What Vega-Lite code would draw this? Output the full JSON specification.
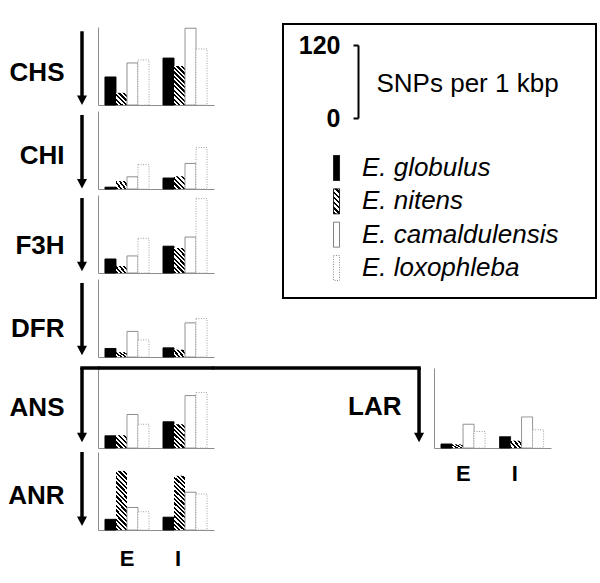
{
 "$schema": "https://vega.github.io/schema/vega-lite/v6.json",
 "padding": {"left": 7, "top": 23, "right": 0, "bottom": 0},
 "config": {
  "font": "Liberation Sans",
  "view": {"stroke": null},
  "axis": {"grid": false, "ticks": false, "tickSize": 0, "labels": false, "domainColor": "#8c8c8c", "domainWidth": 1, "labelColor": "black", "titleColor": "black"}
 },
 "datasets": {
  "snp": [
   {"gene": "CHS", "region": "E", "species": "E. globulus", "snp": 46},
   {"gene": "CHS", "region": "E", "species": "E. nitens", "snp": 20},
   {"gene": "CHS", "region": "E", "species": "E. camaldulensis", "snp": 69},
   {"gene": "CHS", "region": "E", "species": "E. loxophleba", "snp": 74},
   {"gene": "CHS", "region": "I", "species": "E. globulus", "snp": 77},
   {"gene": "CHS", "region": "I", "species": "E. nitens", "snp": 64},
   {"gene": "CHS", "region": "I", "species": "E. camaldulensis", "snp": 126},
   {"gene": "CHS", "region": "I", "species": "E. loxophleba", "snp": 92},
   {"gene": "CHI", "region": "E", "species": "E. globulus", "snp": 3},
   {"gene": "CHI", "region": "E", "species": "E. nitens", "snp": 13},
   {"gene": "CHI", "region": "E", "species": "E. camaldulensis", "snp": 20},
   {"gene": "CHI", "region": "E", "species": "E. loxophleba", "snp": 40},
   {"gene": "CHI", "region": "I", "species": "E. globulus", "snp": 18},
   {"gene": "CHI", "region": "I", "species": "E. nitens", "snp": 21},
   {"gene": "CHI", "region": "I", "species": "E. camaldulensis", "snp": 42},
   {"gene": "CHI", "region": "I", "species": "E. loxophleba", "snp": 68},
   {"gene": "F3H", "region": "E", "species": "E. globulus", "snp": 23},
   {"gene": "F3H", "region": "E", "species": "E. nitens", "snp": 11.5},
   {"gene": "F3H", "region": "E", "species": "E. camaldulensis", "snp": 28},
   {"gene": "F3H", "region": "E", "species": "E. loxophleba", "snp": 57},
   {"gene": "F3H", "region": "I", "species": "E. globulus", "snp": 44},
   {"gene": "F3H", "region": "I", "species": "E. nitens", "snp": 41},
   {"gene": "F3H", "region": "I", "species": "E. camaldulensis", "snp": 59},
   {"gene": "F3H", "region": "I", "species": "E. loxophleba", "snp": 122},
   {"gene": "DFR", "region": "E", "species": "E. globulus", "snp": 14},
   {"gene": "DFR", "region": "E", "species": "E. nitens", "snp": 8},
   {"gene": "DFR", "region": "E", "species": "E. camaldulensis", "snp": 42},
   {"gene": "DFR", "region": "E", "species": "E. loxophleba", "snp": 28},
   {"gene": "DFR", "region": "I", "species": "E. globulus", "snp": 15},
   {"gene": "DFR", "region": "I", "species": "E. nitens", "snp": 12},
   {"gene": "DFR", "region": "I", "species": "E. camaldulensis", "snp": 56},
   {"gene": "DFR", "region": "I", "species": "E. loxophleba", "snp": 63},
   {"gene": "ANS", "region": "E", "species": "E. globulus", "snp": 20},
   {"gene": "ANS", "region": "E", "species": "E. nitens", "snp": 21},
   {"gene": "ANS", "region": "E", "species": "E. camaldulensis", "snp": 55},
   {"gene": "ANS", "region": "E", "species": "E. loxophleba", "snp": 39},
   {"gene": "ANS", "region": "I", "species": "E. globulus", "snp": 43},
   {"gene": "ANS", "region": "I", "species": "E. nitens", "snp": 39},
   {"gene": "ANS", "region": "I", "species": "E. camaldulensis", "snp": 86},
   {"gene": "ANS", "region": "I", "species": "E. loxophleba", "snp": 91},
   {"gene": "ANR", "region": "E", "species": "E. globulus", "snp": 17.5},
   {"gene": "ANR", "region": "E", "species": "E. nitens", "snp": 97},
   {"gene": "ANR", "region": "E", "species": "E. camaldulensis", "snp": 37},
   {"gene": "ANR", "region": "E", "species": "E. loxophleba", "snp": 30},
   {"gene": "ANR", "region": "I", "species": "E. globulus", "snp": 21},
   {"gene": "ANR", "region": "I", "species": "E. nitens", "snp": 89},
   {"gene": "ANR", "region": "I", "species": "E. camaldulensis", "snp": 62},
   {"gene": "ANR", "region": "I", "species": "E. loxophleba", "snp": 59},
   {"gene": "LAR", "region": "E", "species": "E. globulus", "snp": 6.5},
   {"gene": "LAR", "region": "E", "species": "E. nitens", "snp": 6},
   {"gene": "LAR", "region": "E", "species": "E. camaldulensis", "snp": 39},
   {"gene": "LAR", "region": "E", "species": "E. loxophleba", "snp": 27},
   {"gene": "LAR", "region": "I", "species": "E. globulus", "snp": 18.5},
   {"gene": "LAR", "region": "I", "species": "E. nitens", "snp": 12},
   {"gene": "LAR", "region": "I", "species": "E. camaldulensis", "snp": 51},
   {"gene": "LAR", "region": "I", "species": "E. loxophleba", "snp": 30}
  ],
  "species": [
   {"species": "E. globulus"}, {"species": "E. nitens"}, {"species": "E. camaldulensis"}, {"species": "E. loxophleba"}
  ]
 },
 "columns": 4,
 "spacing": {"row": 4, "column": 0},
 "bounds": "flush",
 "align": "each",
 "concat": [
  {"width": 18, "height": 78, "data": {"values": [{}]}, "layer": [
   {"mark": {"type": "rule", "strokeWidth": 3.5, "color": "black"}, "encoding": {
    "x": {"datum": 0.111, "type": "quantitative", "scale": {"domain": [0, 1]}, "axis": null},
    "y": {"datum": 121, "type": "quantitative", "scale": {"domain": [0, 128], "nice": false}, "axis": {"domain": false, "title": "CHS", "titleAngle": 0, "titleAlign": "right", "titleBaseline": "middle", "titleX": -16, "titleY": 45, "titleFontSize": 26, "titleFontWeight": "bold"}},
    "y2": {"datum": 8}}},
   {"mark": {"type": "point", "shape": "M -1 -1.9 L 1 -1.9 L 0 0 Z", "size": 100, "filled": true, "color": "black", "opacity": 1, "strokeWidth": 0}, "encoding": {
    "x": {"datum": 0.111, "type": "quantitative"}, "y": {"datum": 0, "type": "quantitative"}}}
  ]},
  {"width": 116, "height": 78, "data": {"name": "snp"}, "transform": [{"filter": "datum.gene === 'CHS'"}],
   "mark": {"type": "bar", "strokeWidth": 1},
   "encoding": {
    "x": {"field": "region", "type": "nominal", "scale": {"domain": ["E", "I"], "paddingInner": 0.241, "paddingOuter": 0.12}, "axis": {"title": null}},
    "xOffset": {"field": "species", "type": "nominal", "scale": {"domain": ["E. globulus", "E. nitens", "E. camaldulensis", "E. loxophleba"], "paddingInner": 0, "paddingOuter": 0}},
    "y": {"field": "snp", "type": "quantitative", "scale": {"domain": [0, 128], "nice": false}, "axis": {"title": null}},
    "fill": {"condition": [
     {"test": "datum.species === 'E. globulus'", "value": "#000"},
     {"test": "datum.species === 'E. nitens' && datum.snp < 40", "value": {"gradient": "linear", "x1": 0, "y1": 1, "x2": 0.932, "y2": -0.06, "stops": [{"offset": 0, "color": "#000"}, {"offset": 0.1, "color": "#000"}, {"offset": 0.1, "color": "#fff"}, {"offset": 0.2, "color": "#fff"}, {"offset": 0.2, "color": "#000"}, {"offset": 0.3, "color": "#000"}, {"offset": 0.3, "color": "#fff"}, {"offset": 0.4, "color": "#fff"}, {"offset": 0.4, "color": "#000"}, {"offset": 0.5, "color": "#000"}, {"offset": 0.5, "color": "#fff"}, {"offset": 0.6, "color": "#fff"}, {"offset": 0.6, "color": "#000"}, {"offset": 0.7, "color": "#000"}, {"offset": 0.7, "color": "#fff"}, {"offset": 0.8, "color": "#fff"}, {"offset": 0.8, "color": "#000"}, {"offset": 0.9, "color": "#000"}, {"offset": 0.9, "color": "#fff"}, {"offset": 1, "color": "#fff"}]}},
     {"test": "datum.species === 'E. nitens'", "value": {"gradient": "linear", "x1": 0, "y1": 1, "x2": 0.335, "y2": -0.188, "stops": [{"offset": 0, "color": "#000"}, {"offset": 0.0455, "color": "#000"}, {"offset": 0.0455, "color": "#fff"}, {"offset": 0.0909, "color": "#fff"}, {"offset": 0.0909, "color": "#000"}, {"offset": 0.1364, "color": "#000"}, {"offset": 0.1364, "color": "#fff"}, {"offset": 0.1818, "color": "#fff"}, {"offset": 0.1818, "color": "#000"}, {"offset": 0.2273, "color": "#000"}, {"offset": 0.2273, "color": "#fff"}, {"offset": 0.2727, "color": "#fff"}, {"offset": 0.2727, "color": "#000"}, {"offset": 0.3182, "color": "#000"}, {"offset": 0.3182, "color": "#fff"}, {"offset": 0.3636, "color": "#fff"}, {"offset": 0.3636, "color": "#000"}, {"offset": 0.4091, "color": "#000"}, {"offset": 0.4091, "color": "#fff"}, {"offset": 0.4545, "color": "#fff"}, {"offset": 0.4545, "color": "#000"}, {"offset": 0.5, "color": "#000"}, {"offset": 0.5, "color": "#fff"}, {"offset": 0.5455, "color": "#fff"}, {"offset": 0.5455, "color": "#000"}, {"offset": 0.5909, "color": "#000"}, {"offset": 0.5909, "color": "#fff"}, {"offset": 0.6364, "color": "#fff"}, {"offset": 0.6364, "color": "#000"}, {"offset": 0.6818, "color": "#000"}, {"offset": 0.6818, "color": "#fff"}, {"offset": 0.7273, "color": "#fff"}, {"offset": 0.7273, "color": "#000"}, {"offset": 0.7727, "color": "#000"}, {"offset": 0.7727, "color": "#fff"}, {"offset": 0.8182, "color": "#fff"}, {"offset": 0.8182, "color": "#000"}, {"offset": 0.8636, "color": "#000"}, {"offset": 0.8636, "color": "#fff"}, {"offset": 0.9091, "color": "#fff"}, {"offset": 0.9091, "color": "#000"}, {"offset": 0.9545, "color": "#000"}, {"offset": 0.9545, "color": "#fff"}, {"offset": 1, "color": "#fff"}]}}
    ], "value": "#fff"},
    "stroke": {"condition": [{"test": "datum.species === 'E. camaldulensis'", "value": "#8c8c8c"}, {"test": "datum.species === 'E. loxophleba'", "value": "#a0a0a0"}, {"test": "datum.species === 'E. nitens'", "value": "transparent"}], "value": "black"},
    "strokeDash": {"condition": {"test": "datum.species === 'E. loxophleba'", "value": [1, 1.5]}, "value": [1, 0]}
   }},
  {"width": 220, "height": 78,
   "layer": [
    {"data": {"values": [{}]}, "mark": {"type": "rect", "fillOpacity": 0, "stroke": "black", "strokeWidth": 2},
     "encoding": {
      "x": {"datum": 0, "type": "quantitative", "scale": {"domain": [0, 1], "range": [69, 382]}, "axis": null},
      "x2": {"datum": 1},
      "y": {"datum": 0, "type": "quantitative", "scale": {"domain": [0, 1], "range": [-3, 271]}, "axis": null},
      "y2": {"datum": 1}
     }},
    {"data": {"values": [{}]}, "mark": {"type": "rule", "strokeOpacity": 0},
     "encoding": {
      "y": {"datum": 0, "type": "quantitative", "scale": {"domain": [0, 120], "range": [91, 18], "nice": false}, "axis": {"orient": "left", "offset": -144, "values": [0, 120], "domain": true, "domainColor": "black", "domainWidth": 2, "ticks": true, "tickSize": 5, "tickWidth": 2, "tickColor": "black", "labels": true, "labelFontSize": 25, "labelFontWeight": "bold", "labelPadding": 13, "title": "SNPs per 1 kbp", "titleAngle": 0, "titleAlign": "left", "titleBaseline": "middle", "titleX": 18, "titleY": 56, "titleFontSize": 26, "titleFontWeight": "normal"}}
     }},
    {"data": {"name": "species"},
     "encoding": {
      "y": {"field": "species", "type": "nominal", "scale": {"type": "point", "domain": ["E. globulus", "E. nitens", "E. camaldulensis", "E. loxophleba"], "range": [141, 241], "padding": 0}, "axis": null}
     },
     "layer": [
      {"mark": {"type": "point", "shape": "M -0.24 -1 L 0.24 -1 L 0.24 1 L -0.24 1 Z", "size": 625, "filled": true, "opacity": 1, "strokeWidth": 1},
       "encoding": {
        "x": {"datum": 0.171, "type": "quantitative"},
        "fill": {"condition": [{"test": "datum.species === 'E. globulus'", "value": "#000"}, {"test": "datum.species === 'E. nitens'", "value": {"gradient": "linear", "x1": 0, "y1": 1, "x2": 0.281, "y2": -0.172, "stops": [{"offset": 0, "color": "#000"}, {"offset": 0.0833, "color": "#000"}, {"offset": 0.0833, "color": "#fff"}, {"offset": 0.1667, "color": "#fff"}, {"offset": 0.1667, "color": "#000"}, {"offset": 0.25, "color": "#000"}, {"offset": 0.25, "color": "#fff"}, {"offset": 0.3333, "color": "#fff"}, {"offset": 0.3333, "color": "#000"}, {"offset": 0.4167, "color": "#000"}, {"offset": 0.4167, "color": "#fff"}, {"offset": 0.5, "color": "#fff"}, {"offset": 0.5, "color": "#000"}, {"offset": 0.5833, "color": "#000"}, {"offset": 0.5833, "color": "#fff"}, {"offset": 0.6667, "color": "#fff"}, {"offset": 0.6667, "color": "#000"}, {"offset": 0.75, "color": "#000"}, {"offset": 0.75, "color": "#fff"}, {"offset": 0.8333, "color": "#fff"}, {"offset": 0.8333, "color": "#000"}, {"offset": 0.9167, "color": "#000"}, {"offset": 0.9167, "color": "#fff"}, {"offset": 1, "color": "#fff"}]}}], "value": "#fff"},
        "stroke": {"condition": [{"test": "datum.species === 'E. camaldulensis'", "value": "#6e6e6e"}, {"test": "datum.species === 'E. loxophleba'", "value": "#8c8c8c"}], "value": "black"},
        "strokeDash": {"condition": {"test": "datum.species === 'E. loxophleba'", "value": [1, 1.5]}, "value": [1, 0]}
       }},
      {"mark": {"type": "text", "align": "left", "baseline": "middle", "fontSize": 26, "fontStyle": "italic", "color": "black"},
       "encoding": {
        "x": {"datum": 0.252, "type": "quantitative"},
        "text": {"field": "species"}
       }}
     ]}
   ],
   "resolve": {"scale": {"y": "independent"}, "axis": {"y": "independent"}}
  },
  {"width": 1, "height": 80, "data": {"values": []}, "mark": "point"},

  {"width": 18, "height": 78, "data": {"values": [{}]}, "layer": [
   {"mark": {"type": "rule", "strokeWidth": 3.5, "color": "black"}, "encoding": {
    "x": {"datum": 0.111, "type": "quantitative", "scale": {"domain": [0, 1]}, "axis": null},
    "y": {"datum": 121.5, "type": "quantitative", "scale": {"domain": [0, 128], "nice": false}, "axis": {"domain": false, "title": "CHI", "titleAngle": 0, "titleAlign": "right", "titleBaseline": "middle", "titleX": -16, "titleY": 44, "titleFontSize": 26, "titleFontWeight": "bold"}},
    "y2": {"datum": 9}}},
   {"mark": {"type": "point", "shape": "M -1 -1.9 L 1 -1.9 L 0 0 Z", "size": 100, "filled": true, "color": "black", "opacity": 1, "strokeWidth": 0}, "encoding": {
    "x": {"datum": 0.111, "type": "quantitative"}, "y": {"datum": 1, "type": "quantitative"}}}
  ]},
  {"width": 116, "height": 78, "data": {"name": "snp"}, "transform": [{"filter": "datum.gene === 'CHI'"}],
   "mark": {"type": "bar", "strokeWidth": 1},
   "encoding": {
    "x": {"field": "region", "type": "nominal", "scale": {"domain": ["E", "I"], "paddingInner": 0.241, "paddingOuter": 0.12}, "axis": {"title": null}},
    "xOffset": {"field": "species", "type": "nominal", "scale": {"domain": ["E. globulus", "E. nitens", "E. camaldulensis", "E. loxophleba"], "paddingInner": 0, "paddingOuter": 0}},
    "y": {"field": "snp", "type": "quantitative", "scale": {"domain": [0, 128], "nice": false}, "axis": {"title": null}},
    "fill": {"condition": [
     {"test": "datum.species === 'E. globulus'", "value": "#000"},
     {"test": "datum.species === 'E. nitens' && datum.snp < 15", "value": {"gradient": "linear", "x1": 0, "y1": 1, "x2": 1.191, "y2": 0.35, "stops": [{"offset": 0, "color": "#000"}, {"offset": 0.125, "color": "#000"}, {"offset": 0.125, "color": "#fff"}, {"offset": 0.25, "color": "#fff"}, {"offset": 0.25, "color": "#000"}, {"offset": 0.375, "color": "#000"}, {"offset": 0.375, "color": "#fff"}, {"offset": 0.5, "color": "#fff"}, {"offset": 0.5, "color": "#000"}, {"offset": 0.625, "color": "#000"}, {"offset": 0.625, "color": "#fff"}, {"offset": 0.75, "color": "#fff"}, {"offset": 0.75, "color": "#000"}, {"offset": 0.875, "color": "#000"}, {"offset": 0.875, "color": "#fff"}, {"offset": 1, "color": "#fff"}]}},
     {"test": "datum.species === 'E. nitens'", "value": {"gradient": "linear", "x1": 0, "y1": 1, "x2": 0.932, "y2": -0.06, "stops": [{"offset": 0, "color": "#000"}, {"offset": 0.1, "color": "#000"}, {"offset": 0.1, "color": "#fff"}, {"offset": 0.2, "color": "#fff"}, {"offset": 0.2, "color": "#000"}, {"offset": 0.3, "color": "#000"}, {"offset": 0.3, "color": "#fff"}, {"offset": 0.4, "color": "#fff"}, {"offset": 0.4, "color": "#000"}, {"offset": 0.5, "color": "#000"}, {"offset": 0.5, "color": "#fff"}, {"offset": 0.6, "color": "#fff"}, {"offset": 0.6, "color": "#000"}, {"offset": 0.7, "color": "#000"}, {"offset": 0.7, "color": "#fff"}, {"offset": 0.8, "color": "#fff"}, {"offset": 0.8, "color": "#000"}, {"offset": 0.9, "color": "#000"}, {"offset": 0.9, "color": "#fff"}, {"offset": 1, "color": "#fff"}]}}
    ], "value": "#fff"},
    "stroke": {"condition": [{"test": "datum.species === 'E. camaldulensis'", "value": "#8c8c8c"}, {"test": "datum.species === 'E. loxophleba'", "value": "#a0a0a0"}, {"test": "datum.species === 'E. nitens'", "value": "transparent"}], "value": "black"},
    "strokeDash": {"condition": {"test": "datum.species === 'E. loxophleba'", "value": [1, 1.5]}, "value": [1, 0]}
   }},
  {"width": 1, "height": 1, "data": {"values": []}, "mark": "point"},
  {"width": 1, "height": 80, "data": {"values": []}, "mark": "point"},

  {"width": 18, "height": 78, "data": {"values": [{}]}, "layer": [
   {"mark": {"type": "rule", "strokeWidth": 3.5, "color": "black"}, "encoding": {
    "x": {"datum": 0.111, "type": "quantitative", "scale": {"domain": [0, 1]}, "axis": null},
    "y": {"datum": 123, "type": "quantitative", "scale": {"domain": [0, 128], "nice": false}, "axis": {"domain": false, "title": "F3H", "titleAngle": 0, "titleAlign": "right", "titleBaseline": "middle", "titleX": -16, "titleY": 50, "titleFontSize": 26, "titleFontWeight": "bold"}},
    "y2": {"datum": 11}}},
   {"mark": {"type": "point", "shape": "M -1 -1.9 L 1 -1.9 L 0 0 Z", "size": 100, "filled": true, "color": "black", "opacity": 1, "strokeWidth": 0}, "encoding": {
    "x": {"datum": 0.111, "type": "quantitative"}, "y": {"datum": 3, "type": "quantitative"}}}
  ]},
  {"width": 116, "height": 78, "data": {"name": "snp"}, "transform": [{"filter": "datum.gene === 'F3H'"}],
   "mark": {"type": "bar", "strokeWidth": 1},
   "encoding": {
    "x": {"field": "region", "type": "nominal", "scale": {"domain": ["E", "I"], "paddingInner": 0.241, "paddingOuter": 0.12}, "axis": {"title": null}},
    "xOffset": {"field": "species", "type": "nominal", "scale": {"domain": ["E. globulus", "E. nitens", "E. camaldulensis", "E. loxophleba"], "paddingInner": 0, "paddingOuter": 0}},
    "y": {"field": "snp", "type": "quantitative", "scale": {"domain": [0, 128], "nice": false}, "axis": {"title": null}},
    "fill": {"condition": [
     {"test": "datum.species === 'E. globulus'", "value": "#000"},
     {"test": "datum.species === 'E. nitens' && datum.snp < 20", "value": {"gradient": "linear", "x1": 0, "y1": 1, "x2": 1.191, "y2": 0.35, "stops": [{"offset": 0, "color": "#000"}, {"offset": 0.125, "color": "#000"}, {"offset": 0.125, "color": "#fff"}, {"offset": 0.25, "color": "#fff"}, {"offset": 0.25, "color": "#000"}, {"offset": 0.375, "color": "#000"}, {"offset": 0.375, "color": "#fff"}, {"offset": 0.5, "color": "#fff"}, {"offset": 0.5, "color": "#000"}, {"offset": 0.625, "color": "#000"}, {"offset": 0.625, "color": "#fff"}, {"offset": 0.75, "color": "#fff"}, {"offset": 0.75, "color": "#000"}, {"offset": 0.875, "color": "#000"}, {"offset": 0.875, "color": "#fff"}, {"offset": 1, "color": "#fff"}]}},
     {"test": "datum.species === 'E. nitens'", "value": {"gradient": "linear", "x1": 0, "y1": 1, "x2": 0.541, "y2": -0.206, "stops": [{"offset": 0, "color": "#000"}, {"offset": 0.0625, "color": "#000"}, {"offset": 0.0625, "color": "#fff"}, {"offset": 0.125, "color": "#fff"}, {"offset": 0.125, "color": "#000"}, {"offset": 0.1875, "color": "#000"}, {"offset": 0.1875, "color": "#fff"}, {"offset": 0.25, "color": "#fff"}, {"offset": 0.25, "color": "#000"}, {"offset": 0.3125, "color": "#000"}, {"offset": 0.3125, "color": "#fff"}, {"offset": 0.375, "color": "#fff"}, {"offset": 0.375, "color": "#000"}, {"offset": 0.4375, "color": "#000"}, {"offset": 0.4375, "color": "#fff"}, {"offset": 0.5, "color": "#fff"}, {"offset": 0.5, "color": "#000"}, {"offset": 0.5625, "color": "#000"}, {"offset": 0.5625, "color": "#fff"}, {"offset": 0.625, "color": "#fff"}, {"offset": 0.625, "color": "#000"}, {"offset": 0.6875, "color": "#000"}, {"offset": 0.6875, "color": "#fff"}, {"offset": 0.75, "color": "#fff"}, {"offset": 0.75, "color": "#000"}, {"offset": 0.8125, "color": "#000"}, {"offset": 0.8125, "color": "#fff"}, {"offset": 0.875, "color": "#fff"}, {"offset": 0.875, "color": "#000"}, {"offset": 0.9375, "color": "#000"}, {"offset": 0.9375, "color": "#fff"}, {"offset": 1, "color": "#fff"}]}}
    ], "value": "#fff"},
    "stroke": {"condition": [{"test": "datum.species === 'E. camaldulensis'", "value": "#8c8c8c"}, {"test": "datum.species === 'E. loxophleba'", "value": "#a0a0a0"}, {"test": "datum.species === 'E. nitens'", "value": "transparent"}], "value": "black"},
    "strokeDash": {"condition": {"test": "datum.species === 'E. loxophleba'", "value": [1, 1.5]}, "value": [1, 0]}
   }},
  {"width": 1, "height": 1, "data": {"values": []}, "mark": "point"},
  {"width": 1, "height": 80, "data": {"values": []}, "mark": "point"},

  {"width": 18, "height": 78, "data": {"values": [{}]}, "layer": [
   {"mark": {"type": "rule", "strokeWidth": 3.5, "color": "black"}, "encoding": {
    "x": {"datum": 0.111, "type": "quantitative", "scale": {"domain": [0, 1]}, "axis": null},
    "y": {"datum": 121.5, "type": "quantitative", "scale": {"domain": [0, 128], "nice": false}, "axis": {"domain": false, "title": "DFR", "titleAngle": 0, "titleAlign": "right", "titleBaseline": "middle", "titleX": -16, "titleY": 49, "titleFontSize": 26, "titleFontWeight": "bold"}},
    "y2": {"datum": 11}}},
   {"mark": {"type": "point", "shape": "M -1 -1.9 L 1 -1.9 L 0 0 Z", "size": 100, "filled": true, "color": "black", "opacity": 1, "strokeWidth": 0}, "encoding": {
    "x": {"datum": 0.111, "type": "quantitative"}, "y": {"datum": 3, "type": "quantitative"}}}
  ]},
  {"width": 116, "height": 78, "data": {"name": "snp"}, "transform": [{"filter": "datum.gene === 'DFR'"}],
   "mark": {"type": "bar", "strokeWidth": 1},
   "encoding": {
    "x": {"field": "region", "type": "nominal", "scale": {"domain": ["E", "I"], "paddingInner": 0.241, "paddingOuter": 0.12}, "axis": {"title": null}},
    "xOffset": {"field": "species", "type": "nominal", "scale": {"domain": ["E. globulus", "E. nitens", "E. camaldulensis", "E. loxophleba"], "paddingInner": 0, "paddingOuter": 0}},
    "y": {"field": "snp", "type": "quantitative", "scale": {"domain": [0, 128], "nice": false}, "axis": {"title": null}},
    "fill": {"condition": [
     {"test": "datum.species === 'E. globulus'", "value": "#000"},
     {"test": "datum.species === 'E. nitens'", "value": {"gradient": "linear", "x1": 0, "y1": 1, "x2": 1.191, "y2": 0.35, "stops": [{"offset": 0, "color": "#000"}, {"offset": 0.125, "color": "#000"}, {"offset": 0.125, "color": "#fff"}, {"offset": 0.25, "color": "#fff"}, {"offset": 0.25, "color": "#000"}, {"offset": 0.375, "color": "#000"}, {"offset": 0.375, "color": "#fff"}, {"offset": 0.5, "color": "#fff"}, {"offset": 0.5, "color": "#000"}, {"offset": 0.625, "color": "#000"}, {"offset": 0.625, "color": "#fff"}, {"offset": 0.75, "color": "#fff"}, {"offset": 0.75, "color": "#000"}, {"offset": 0.875, "color": "#000"}, {"offset": 0.875, "color": "#fff"}, {"offset": 1, "color": "#fff"}]}}
    ], "value": "#fff"},
    "stroke": {"condition": [{"test": "datum.species === 'E. camaldulensis'", "value": "#8c8c8c"}, {"test": "datum.species === 'E. loxophleba'", "value": "#a0a0a0"}, {"test": "datum.species === 'E. nitens'", "value": "transparent"}], "value": "black"},
    "strokeDash": {"condition": {"test": "datum.species === 'E. loxophleba'", "value": [1, 1.5]}, "value": [1, 0]}
   }},
  {"width": 1, "height": 1, "data": {"values": []}, "mark": "point"},
  {"width": 1, "height": 85, "data": {"values": []}, "mark": "point"},

  {"width": 18, "height": 80, "data": {"values": [{}]}, "layer": [
   {"mark": {"type": "rule", "strokeWidth": 3.5, "color": "black", "strokeCap": "square"}, "encoding": {
    "x": {"datum": 0.111, "type": "quantitative", "scale": {"domain": [0, 1]}, "axis": null},
    "x2": {"datum": 1},
    "y": {"datum": 131.3, "type": "quantitative", "scale": {"domain": [0, 131.3], "nice": false}, "axis": {"domain": false, "title": "ANS", "titleAngle": 0, "titleAlign": "right", "titleBaseline": "middle", "titleX": -16, "titleY": 39, "titleFontSize": 26, "titleFontWeight": "bold"}}}},
   {"mark": {"type": "rule", "strokeWidth": 3.5, "color": "black"}, "encoding": {
    "x": {"datum": 0.111, "type": "quantitative"},
    "y": {"datum": 131.3, "type": "quantitative"},
    "y2": {"datum": 17}}},
   {"mark": {"type": "point", "shape": "M -1 -1.9 L 1 -1.9 L 0 0 Z", "size": 100, "filled": true, "color": "black", "opacity": 1, "strokeWidth": 0}, "encoding": {
    "x": {"datum": 0.111, "type": "quantitative"}, "y": {"datum": 9.5, "type": "quantitative"}}}
  ]},
  {"width": 116, "height": 80,
   "layer": [
    {"data": {"name": "snp"}, "transform": [{"filter": "datum.gene === 'ANS'"}],
     "mark": {"type": "bar", "strokeWidth": 1},
     "encoding": {
      "x": {"field": "region", "type": "nominal", "scale": {"domain": ["E", "I"], "paddingInner": 0.241, "paddingOuter": 0.12}, "axis": {"title": null}},
      "xOffset": {"field": "species", "type": "nominal", "scale": {"domain": ["E. globulus", "E. nitens", "E. camaldulensis", "E. loxophleba"], "paddingInner": 0, "paddingOuter": 0}},
      "y": {"field": "snp", "type": "quantitative", "scale": {"domain": [0, 131.3], "nice": false}, "axis": {"title": null}},
      "fill": {"condition": [
       {"test": "datum.species === 'E. globulus'", "value": "#000"},
       {"test": "datum.species === 'E. nitens' && datum.snp < 30", "value": {"gradient": "linear", "x1": 0, "y1": 1, "x2": 0.932, "y2": -0.06, "stops": [{"offset": 0, "color": "#000"}, {"offset": 0.1, "color": "#000"}, {"offset": 0.1, "color": "#fff"}, {"offset": 0.2, "color": "#fff"}, {"offset": 0.2, "color": "#000"}, {"offset": 0.3, "color": "#000"}, {"offset": 0.3, "color": "#fff"}, {"offset": 0.4, "color": "#fff"}, {"offset": 0.4, "color": "#000"}, {"offset": 0.5, "color": "#000"}, {"offset": 0.5, "color": "#fff"}, {"offset": 0.6, "color": "#fff"}, {"offset": 0.6, "color": "#000"}, {"offset": 0.7, "color": "#000"}, {"offset": 0.7, "color": "#fff"}, {"offset": 0.8, "color": "#fff"}, {"offset": 0.8, "color": "#000"}, {"offset": 0.9, "color": "#000"}, {"offset": 0.9, "color": "#fff"}, {"offset": 1, "color": "#fff"}]}},
       {"test": "datum.species === 'E. nitens'", "value": {"gradient": "linear", "x1": 0, "y1": 1, "x2": 0.541, "y2": -0.206, "stops": [{"offset": 0, "color": "#000"}, {"offset": 0.0625, "color": "#000"}, {"offset": 0.0625, "color": "#fff"}, {"offset": 0.125, "color": "#fff"}, {"offset": 0.125, "color": "#000"}, {"offset": 0.1875, "color": "#000"}, {"offset": 0.1875, "color": "#fff"}, {"offset": 0.25, "color": "#fff"}, {"offset": 0.25, "color": "#000"}, {"offset": 0.3125, "color": "#000"}, {"offset": 0.3125, "color": "#fff"}, {"offset": 0.375, "color": "#fff"}, {"offset": 0.375, "color": "#000"}, {"offset": 0.4375, "color": "#000"}, {"offset": 0.4375, "color": "#fff"}, {"offset": 0.5, "color": "#fff"}, {"offset": 0.5, "color": "#000"}, {"offset": 0.5625, "color": "#000"}, {"offset": 0.5625, "color": "#fff"}, {"offset": 0.625, "color": "#fff"}, {"offset": 0.625, "color": "#000"}, {"offset": 0.6875, "color": "#000"}, {"offset": 0.6875, "color": "#fff"}, {"offset": 0.75, "color": "#fff"}, {"offset": 0.75, "color": "#000"}, {"offset": 0.8125, "color": "#000"}, {"offset": 0.8125, "color": "#fff"}, {"offset": 0.875, "color": "#fff"}, {"offset": 0.875, "color": "#000"}, {"offset": 0.9375, "color": "#000"}, {"offset": 0.9375, "color": "#fff"}, {"offset": 1, "color": "#fff"}]}}
      ], "value": "#fff"},
      "stroke": {"condition": [{"test": "datum.species === 'E. camaldulensis'", "value": "#8c8c8c"}, {"test": "datum.species === 'E. loxophleba'", "value": "#a0a0a0"}, {"test": "datum.species === 'E. nitens'", "value": "transparent"}], "value": "black"},
      "strokeDash": {"condition": {"test": "datum.species === 'E. loxophleba'", "value": [1, 1.5]}, "value": [1, 0]}
     }},
    {"data": {"values": [{}]}, "mark": {"type": "rule", "strokeWidth": 3.5, "color": "black"},
     "encoding": {"y": {"datum": 131.3, "type": "quantitative"}}}
   ]},
  {"width": 220, "height": 80, "data": {"values": [{}]}, "layer": [
   {"mark": {"type": "rule", "strokeWidth": 3.5, "color": "black", "strokeCap": "square"}, "encoding": {
    "x": {"datum": 0, "type": "quantitative", "scale": {"domain": [0, 1]}, "axis": null},
    "x2": {"datum": 0.932},
    "y": {"datum": 131.3, "type": "quantitative", "scale": {"domain": [0, 131.3], "nice": false}, "axis": {"domain": false, "title": "LAR", "titleAngle": 0, "titleAlign": "right", "titleBaseline": "middle", "titleX": 187, "titleY": 38, "titleFontSize": 26, "titleFontWeight": "bold"}}}},
   {"mark": {"type": "rule", "strokeWidth": 3.5, "color": "black"}, "encoding": {
    "x": {"datum": 0.932, "type": "quantitative"},
    "y": {"datum": 131.3, "type": "quantitative"},
    "y2": {"datum": 17}}},
   {"mark": {"type": "point", "shape": "M -1 -1.9 L 1 -1.9 L 0 0 Z", "size": 100, "filled": true, "color": "black", "opacity": 1, "strokeWidth": 0}, "encoding": {
    "x": {"datum": 0.932, "type": "quantitative"}, "y": {"datum": 9.5, "type": "quantitative"}}}
  ]},
  {"width": 117, "height": 80, "data": {"name": "snp"}, "transform": [{"filter": "datum.gene === 'LAR'"}],
   "mark": {"type": "bar", "strokeWidth": 1},
   "encoding": {
    "x": {"field": "region", "type": "nominal", "scale": {"domain": ["E", "I"], "paddingInner": 0.241, "paddingOuter": 0.12}, "axis": {"title": null, "labels": true, "labelAngle": 0, "labelFontSize": 22, "labelFontWeight": "bold", "labelPadding": 15.5, "labelOffset": {"condition": {"test": "datum.label === 'I'", "value": -7}, "value": 0}}},
    "xOffset": {"field": "species", "type": "nominal", "scale": {"domain": ["E. globulus", "E. nitens", "E. camaldulensis", "E. loxophleba"], "paddingInner": 0, "paddingOuter": 0}},
    "y": {"field": "snp", "type": "quantitative", "scale": {"domain": [0, 131.3], "nice": false}, "axis": {"title": null}},
    "fill": {"condition": [
     {"test": "datum.species === 'E. globulus'", "value": "#000"},
     {"test": "datum.species === 'E. nitens'", "value": {"gradient": "linear", "x1": 0, "y1": 1, "x2": 1.191, "y2": 0.35, "stops": [{"offset": 0, "color": "#000"}, {"offset": 0.125, "color": "#000"}, {"offset": 0.125, "color": "#fff"}, {"offset": 0.25, "color": "#fff"}, {"offset": 0.25, "color": "#000"}, {"offset": 0.375, "color": "#000"}, {"offset": 0.375, "color": "#fff"}, {"offset": 0.5, "color": "#fff"}, {"offset": 0.5, "color": "#000"}, {"offset": 0.625, "color": "#000"}, {"offset": 0.625, "color": "#fff"}, {"offset": 0.75, "color": "#fff"}, {"offset": 0.75, "color": "#000"}, {"offset": 0.875, "color": "#000"}, {"offset": 0.875, "color": "#fff"}, {"offset": 1, "color": "#fff"}]}}
    ], "value": "#fff"},
    "stroke": {"condition": [{"test": "datum.species === 'E. camaldulensis'", "value": "#8c8c8c"}, {"test": "datum.species === 'E. loxophleba'", "value": "#a0a0a0"}, {"test": "datum.species === 'E. nitens'", "value": "transparent"}], "value": "black"},
    "strokeDash": {"condition": {"test": "datum.species === 'E. loxophleba'", "value": [1, 1.5]}, "value": [1, 0]}
   }},

  {"width": 18, "height": 78, "data": {"values": [{}]}, "layer": [
   {"mark": {"type": "rule", "strokeWidth": 3.5, "color": "black"}, "encoding": {
    "x": {"datum": 0.111, "type": "quantitative", "scale": {"domain": [0, 1]}, "axis": null},
    "y": {"datum": 128, "type": "quantitative", "scale": {"domain": [0, 128], "nice": false}, "axis": {"domain": false, "title": "ANR", "titleAngle": 0, "titleAlign": "right", "titleBaseline": "middle", "titleX": -16, "titleY": 43, "titleFontSize": 26, "titleFontWeight": "bold"}},
    "y2": {"datum": 14}}},
   {"mark": {"type": "point", "shape": "M -1 -1.9 L 1 -1.9 L 0 0 Z", "size": 100, "filled": true, "color": "black", "opacity": 1, "strokeWidth": 0}, "encoding": {
    "x": {"datum": 0.111, "type": "quantitative"}, "y": {"datum": 6.5, "type": "quantitative"}}}
  ]},
  {"width": 116, "height": 78, "data": {"name": "snp"}, "transform": [{"filter": "datum.gene === 'ANR'"}],
   "mark": {"type": "bar", "strokeWidth": 1},
   "encoding": {
    "x": {"field": "region", "type": "nominal", "scale": {"domain": ["E", "I"], "paddingInner": 0.241, "paddingOuter": 0.12}, "axis": {"title": null, "labels": true, "labelAngle": 0, "labelFontSize": 22, "labelFontWeight": "bold", "labelPadding": 18.5, "labelOffset": {"condition": {"test": "datum.label === 'I'", "value": -7}, "value": 0}}},
    "xOffset": {"field": "species", "type": "nominal", "scale": {"domain": ["E. globulus", "E. nitens", "E. camaldulensis", "E. loxophleba"], "paddingInner": 0, "paddingOuter": 0}},
    "y": {"field": "snp", "type": "quantitative", "scale": {"domain": [0, 128], "nice": false}, "axis": {"title": null}},
    "fill": {"condition": [
     {"test": "datum.species === 'E. globulus'", "value": "#000"},
     {"test": "datum.species === 'E. nitens'", "value": {"gradient": "linear", "x1": 0, "y1": 1, "x2": 0.222, "y2": -0.15, "stops": [{"offset": 0, "color": "#000"}, {"offset": 0.0333, "color": "#000"}, {"offset": 0.0333, "color": "#fff"}, {"offset": 0.0667, "color": "#fff"}, {"offset": 0.0667, "color": "#000"}, {"offset": 0.1, "color": "#000"}, {"offset": 0.1, "color": "#fff"}, {"offset": 0.1333, "color": "#fff"}, {"offset": 0.1333, "color": "#000"}, {"offset": 0.1667, "color": "#000"}, {"offset": 0.1667, "color": "#fff"}, {"offset": 0.2, "color": "#fff"}, {"offset": 0.2, "color": "#000"}, {"offset": 0.2333, "color": "#000"}, {"offset": 0.2333, "color": "#fff"}, {"offset": 0.2667, "color": "#fff"}, {"offset": 0.2667, "color": "#000"}, {"offset": 0.3, "color": "#000"}, {"offset": 0.3, "color": "#fff"}, {"offset": 0.3333, "color": "#fff"}, {"offset": 0.3333, "color": "#000"}, {"offset": 0.3667, "color": "#000"}, {"offset": 0.3667, "color": "#fff"}, {"offset": 0.4, "color": "#fff"}, {"offset": 0.4, "color": "#000"}, {"offset": 0.4333, "color": "#000"}, {"offset": 0.4333, "color": "#fff"}, {"offset": 0.4667, "color": "#fff"}, {"offset": 0.4667, "color": "#000"}, {"offset": 0.5, "color": "#000"}, {"offset": 0.5, "color": "#fff"}, {"offset": 0.5333, "color": "#fff"}, {"offset": 0.5333, "color": "#000"}, {"offset": 0.5667, "color": "#000"}, {"offset": 0.5667, "color": "#fff"}, {"offset": 0.6, "color": "#fff"}, {"offset": 0.6, "color": "#000"}, {"offset": 0.6333, "color": "#000"}, {"offset": 0.6333, "color": "#fff"}, {"offset": 0.6667, "color": "#fff"}, {"offset": 0.6667, "color": "#000"}, {"offset": 0.7, "color": "#000"}, {"offset": 0.7, "color": "#fff"}, {"offset": 0.7333, "color": "#fff"}, {"offset": 0.7333, "color": "#000"}, {"offset": 0.7667, "color": "#000"}, {"offset": 0.7667, "color": "#fff"}, {"offset": 0.8, "color": "#fff"}, {"offset": 0.8, "color": "#000"}, {"offset": 0.8333, "color": "#000"}, {"offset": 0.8333, "color": "#fff"}, {"offset": 0.8667, "color": "#fff"}, {"offset": 0.8667, "color": "#000"}, {"offset": 0.9, "color": "#000"}, {"offset": 0.9, "color": "#fff"}, {"offset": 0.9333, "color": "#fff"}, {"offset": 0.9333, "color": "#000"}, {"offset": 0.9667, "color": "#000"}, {"offset": 0.9667, "color": "#fff"}, {"offset": 1, "color": "#fff"}]}}
    ], "value": "#fff"},
    "stroke": {"condition": [{"test": "datum.species === 'E. camaldulensis'", "value": "#8c8c8c"}, {"test": "datum.species === 'E. loxophleba'", "value": "#a0a0a0"}, {"test": "datum.species === 'E. nitens'", "value": "transparent"}], "value": "black"},
    "strokeDash": {"condition": {"test": "datum.species === 'E. loxophleba'", "value": [1, 1.5]}, "value": [1, 0]}
   }}
 ]
}
